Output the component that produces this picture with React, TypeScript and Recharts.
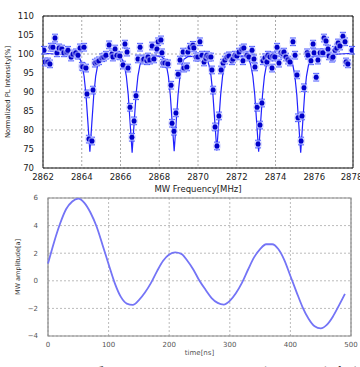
import React from 'react';
import {
  ComposedChart,
  LineChart,
  Line,
  Scatter,
  ErrorBar,
  XAxis,
  YAxis,
  CartesianGrid,
  ReferenceArea,
  Label,
} from 'recharts';

// ODMR spectrum, measured points
const odmrFreq = [
  2862.05, 2862.1, 2862.26, 2862.36, 2862.41, 2862.52, 2862.62, 2862.72, 2862.83, 2862.98,
  2863.08, 2863.24, 2863.29, 2863.45, 2863.55, 2863.7, 2863.81, 2863.91, 2864.01, 2864.06,
  2864.12, 2864.22, 2864.27, 2864.37, 2864.53, 2864.58, 2864.68, 2864.79, 2864.89, 2865.05,
  2865.15, 2865.25, 2865.41, 2865.56, 2865.61, 2865.72, 2865.82, 2865.97, 2866.13, 2866.23,
  2866.34, 2866.39, 2866.49, 2866.59, 2866.7, 2866.8, 2866.9, 2867.01, 2867.16, 2867.21,
  2867.37, 2867.42, 2867.52, 2867.63, 2867.73, 2867.88, 2867.94, 2868.09, 2868.14, 2868.19,
  2868.3, 2868.45, 2868.61, 2868.66, 2868.76, 2868.86, 2868.97, 2869.07, 2869.23, 2869.28,
  2869.43, 2869.48, 2869.59, 2869.74, 2869.79, 2869.9, 2870.0, 2870.1, 2870.21, 2870.31,
  2870.41, 2870.46, 2870.57, 2870.67, 2870.72, 2870.78, 2870.88, 2870.98, 2871.08, 2871.19,
  2871.29, 2871.39, 2871.5, 2871.6, 2871.75, 2871.81, 2871.91, 2872.01, 2872.12, 2872.27,
  2872.32, 2872.37, 2872.53, 2872.63, 2872.79, 2872.89, 2872.94, 2873.05, 2873.1, 2873.2,
  2873.3, 2873.35, 2873.46, 2873.56, 2873.61, 2873.72, 2873.82, 2873.87, 2873.97, 2874.08,
  2874.18, 2874.28, 2874.39, 2874.44, 2874.54, 2874.65, 2874.75, 2874.9, 2875.01, 2875.11,
  2875.16, 2875.32, 2875.37, 2875.47, 2875.63, 2875.68, 2875.83, 2875.94, 2875.99, 2876.1,
  2876.19, 2876.3, 2876.45, 2876.5, 2876.61, 2876.71, 2876.76, 2876.92, 2876.97, 2877.07,
  2877.17, 2877.23, 2877.33, 2877.48, 2877.59, 2877.64, 2877.74, 2877.95,
];
const odmrPL = [
  101.0, 97.9, 97.9, 97.4, 101.8, 101.8, 104.2, 100.3, 101.6, 101.3,
  100.3, 100.5, 101.0, 99.2, 100.0, 100.3, 99.7, 101.6, 96.8, 96.6,
  101.8, 96.3, 89.5, 77.6, 77.1, 90.5, 97.6, 97.9, 98.2, 99.0,
  99.2, 99.7, 102.4, 100.0, 99.2, 101.3, 99.7, 99.5, 97.1, 102.6,
  100.5, 96.3, 86.0, 78.1, 82.4, 89.0, 98.7, 101.8, 98.4, 98.7,
  98.2, 99.2, 98.4, 102.1, 98.7, 101.3, 103.2, 103.7, 100.3, 97.6,
  97.6, 97.4, 91.8, 81.8, 79.7, 84.5, 94.7, 98.4, 100.5, 96.3,
  96.6, 100.5, 101.8, 102.3, 101.6, 99.2, 99.2, 103.2, 99.7, 97.9,
  98.9, 99.7, 99.2, 99.2, 95.8, 90.5, 80.8, 75.8, 83.7, 95.8,
  97.6, 98.4, 99.2, 99.5, 98.2, 98.7, 99.7, 99.5, 100.5, 101.3,
  98.2, 101.6, 99.7, 99.2, 101.0, 98.7, 96.6, 86.0, 76.3, 81.3,
  87.1, 98.2, 99.0, 97.9, 99.7, 99.2, 96.3, 99.5, 99.2, 101.8,
  97.6, 100.3, 100.0, 100.5, 99.2, 98.4, 97.9, 103.2, 99.7, 94.5,
  83.2, 77.1, 83.7, 91.1, 100.3, 99.7, 98.2, 102.6, 100.3, 93.9,
  98.4, 100.3, 100.3, 104.2, 103.4, 101.3, 99.5, 98.9, 99.2, 101.0,
  101.6, 102.9, 102.1, 104.7, 103.2, 97.9, 97.4, 101.0,
];
const PL_ERR = 1.0;
const FREQ_ERR = 0.06;

// fitted curve through the six dips
const fitFreq = [
  2862.0, 2863.7, 2863.92, 2864.02, 2864.12, 2864.22, 2864.32, 2864.42, 2864.52, 2864.62, 2864.72, 2864.82, 2864.92, 2865.12,
  2865.9, 2866.1, 2866.2, 2866.3, 2866.4, 2866.5, 2866.6, 2866.7, 2866.8, 2866.9, 2867.0, 2867.1, 2867.3,
  2868.07, 2868.27, 2868.37, 2868.47, 2868.57, 2868.67, 2868.77, 2868.87, 2868.97, 2869.07, 2869.17, 2869.27, 2869.47,
  2870.27, 2870.47, 2870.57, 2870.67, 2870.77, 2870.87, 2870.97, 2871.07, 2871.17, 2871.27, 2871.37, 2871.47, 2871.67,
  2872.43, 2872.63, 2872.73, 2872.83, 2872.93, 2873.03, 2873.13, 2873.23, 2873.33, 2873.43, 2873.53, 2873.63, 2873.83,
  2874.6, 2874.8, 2874.9, 2875.0, 2875.1, 2875.2, 2875.3, 2875.4, 2875.5, 2875.6, 2875.7, 2875.8, 2876.0,
  2878.0,
];
const fitPL = [
  100.2, 99.6, 98.6, 97.0, 94.2, 89.2, 81.8, 74.3, 81.8, 89.2, 94.2, 97.0, 98.6, 99.3,
  99.5, 98.6, 97.0, 94.2, 89.2, 81.6, 74.0, 81.6, 89.2, 94.2, 97.0, 98.6, 99.3,
  99.5, 98.6, 97.0, 94.2, 89.2, 81.8, 74.4, 81.8, 89.2, 94.2, 97.0, 98.6, 99.3,
  99.5, 98.6, 97.0, 94.3, 89.3, 82.0, 74.6, 82.0, 89.3, 94.3, 97.0, 98.6, 99.3,
  99.5, 98.6, 97.0, 94.2, 89.2, 81.8, 74.3, 81.8, 89.2, 94.2, 97.0, 98.6, 99.5,
  99.6, 98.6, 97.0, 94.2, 89.2, 81.6, 74.0, 81.6, 89.2, 94.2, 97.0, 98.6, 99.6,
  100.2,
];
const freqTicks = [2862, 2864, 2866, 2868, 2870, 2872, 2874, 2876, 2878];
const plTicks = [70, 75, 80, 85, 90, 95, 100, 105, 110];

// MW amplitude vs time
const timeNs = [
  0, 10, 20, 30, 40, 50, 60, 70, 80, 90, 100, 110, 120, 130, 140, 150, 160, 170, 180, 190,
  200, 210, 220, 230, 240, 250, 260, 270, 280, 290, 300, 310, 320, 330, 340, 350, 360, 370, 380, 390,
  400, 410, 420, 430, 440, 450, 460, 470, 480, 490,
];
const mwAmp = [
  1.25, 2.8, 4.15, 5.2, 5.75, 5.95, 5.65, 4.95, 3.95, 2.6, 1.2, -0.15, -1.15, -1.65, -1.75, -1.4, -0.85, -0.15, 0.7, 1.45,
  1.9, 2.06, 1.95, 1.45, 0.8, 0.0, -0.65, -1.25, -1.6, -1.72, -1.45, -0.9, -0.15, 0.8, 1.7, 2.3, 2.65, 2.65, 2.3, 1.5,
  0.35, -0.8, -1.9, -2.75, -3.3, -3.45, -3.2, -2.6, -1.8, -0.95,
];
const timeTicks = [0, 100, 200, 300, 400, 500];
const ampTicks = [-4, -2, 0, 2, 4, 6];

const odmrData = odmrFreq.map((f, i) => ({ f, pl: odmrPL[i], ey: PL_ERR, ex: FREQ_ERR }));
const fitData = fitFreq.map((f, i) => ({ f, pl: fitPL[i] }));
const ampData = timeNs.map((t, i) => ({ t, a: mwAmp[i] }));

const FONT = '"DejaVu Sans", sans-serif';
const minus = (v: number) => (v < 0 ? '\u2212' + Math.abs(v) : String(v));

const Dot = (props: any) => {
  const { cx, cy } = props;
  if (cx == null || cy == null) return null;
  return (
    <g>
      <circle cx={cx} cy={cy} r={4} fill="#c4c8ff" opacity={0.55} />
      <circle cx={cx} cy={cy} r={2.5} fill="#0000c8" />
    </g>
  );
};

export default function App() {
  return (
    <div style={{ position: 'absolute', left: 0, top: 0, width: 360, height: 367, overflow: 'hidden', background: '#fff' }}>
      <div style={{ position: 'absolute', left: 0, top: 0 }}>
        <ComposedChart width={360} height={194} margin={{ top: 16, right: 7, bottom: 4, left: 0 }}>
          <CartesianGrid stroke="#aaa" strokeDasharray="2 2" />
          <XAxis
            type="number"
            dataKey="f"
            domain={[2862, 2878]}
            ticks={freqTicks}
            allowDataOverflow
            height={22}
            tickLine={false}
            axisLine={false}
            tickMargin={0}
            tick={{ fontSize: 8.5, fill: '#222', fontFamily: FONT }}
          >
            <Label value="MW Frequency[MHz]" position="insideBottom" offset={-2} style={{ fontSize: 8.5, fill: '#222', fontFamily: FONT }} />
          </XAxis>
          <YAxis
            type="number"
            dataKey="pl"
            domain={[70, 110]}
            ticks={plTicks}
            allowDataOverflow
            width={43}
            tickLine={false}
            axisLine={false}
            tickMargin={3}
            tick={{ fontSize: 8.5, fill: '#222', fontFamily: FONT }}
          >
            <Label value="Normalized PL Intensity[%]" angle={-90} position="insideLeft" offset={8} style={{ fontSize: 6.8, fill: '#222', fontFamily: FONT, textAnchor: 'middle' }} />
          </YAxis>
          <Line data={fitData} dataKey="pl" type="linear" stroke="#2222ff" strokeWidth={1.2} dot={false} isAnimationActive={false} />
          <Scatter data={odmrData} dataKey="pl" shape={<Dot />} isAnimationActive={false}>
            <ErrorBar dataKey="ey" direction="y" width={3} stroke="#3344ff" strokeWidth={1} />
            <ErrorBar dataKey="ex" direction="x" width={3} stroke="#3344ff" strokeWidth={1} />
          </Scatter>
          <ReferenceArea x1={2862} x2={2878} y1={70} y2={110} fill="none" stroke="#111" strokeWidth={1} />
        </ComposedChart>
      </div>
      <div style={{ position: 'absolute', left: 0, top: 190 }}>
        <LineChart width={360} height={172} data={ampData} margin={{ top: 8, right: 9, bottom: 5, left: 0 }}>
          <CartesianGrid stroke="#bbb" strokeDasharray="2 2" />
          <XAxis
            type="number"
            dataKey="t"
            domain={[0, 500]}
            ticks={timeTicks}
            height={21}
            tickLine={false}
            axisLine={false}
            tickMargin={0}
            tick={{ fontSize: 7, fill: '#555', fontFamily: FONT }}
          >
            <Label value="time[ns]" position="insideBottom" offset={2} style={{ fontSize: 7, fill: '#555', fontFamily: FONT }} />
          </XAxis>
          <YAxis
            type="number"
            domain={[-4, 6]}
            ticks={ampTicks}
            width={48}
            tickLine={false}
            axisLine={false}
            tickMargin={4}
            tickFormatter={minus}
            tick={{ fontSize: 7, fill: '#555', fontFamily: FONT }}
          >
            <Label value="MW amplitude[a]" angle={-90} position="insideLeft" offset={18} style={{ fontSize: 6.5, fill: '#333', fontFamily: FONT, textAnchor: 'middle' }} />
          </YAxis>
          <Line dataKey="a" type="monotone" stroke="#7474f6" strokeWidth={1.8} dot={false} isAnimationActive={false} />
          <ReferenceArea x1={0} x2={500} y1={-4} y2={6} fill="none" stroke="#888" strokeWidth={1.2} />
        </LineChart>
      </div>
      <div
        style={{
          position: 'absolute',
          left: 37,
          top: 365,
          whiteSpace: 'nowrap',
          fontFamily: '"Noto Sans CJK JP", sans-serif',
          fontWeight: 700,
          fontSize: 16,
          lineHeight: '16px',
          letterSpacing: 5,
          color: '#111',
        }}
      >
        図 3 系の ODMR スペクトル(上)と
      </div>
    </div>
  );
}
